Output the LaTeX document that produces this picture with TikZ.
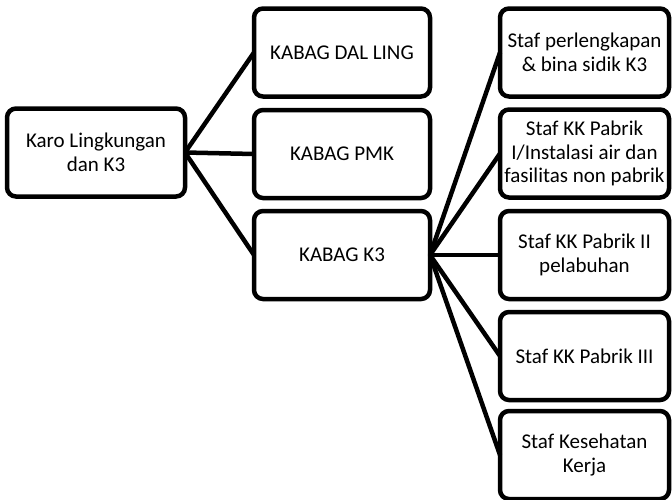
\documentclass[tikz,border=0pt]{standalone}
\usepackage{fontspec}
\setmainfont{Carlito}
\begin{document}
\begin{tikzpicture}[x=1pt,y=-1pt,
  box/.style={draw,line width=4.5pt,rounded corners=9pt,minimum height=88pt,
    inner sep=0pt,outer sep=0pt,align=center,font=\fontsize{21}{23.5}\selectfont},
  headbox/.style={box,minimum width=178pt},
  midbox/.style={box,minimum width=176pt},
  staffbox/.style={box,minimum width=169pt},
  link/.style={line width=4.5pt}]
\useasboundingbox (0,0) rectangle (672,499);

% head of the unit
\node[headbox] (karo) at (96,152.5) {Karo Lingkungan\\dan K3};

% sections
\node[midbox] (dal) at (342,52.5) {KABAG DAL LING};
\node[midbox] (pmk) at (342,154) {KABAG PMK};
\node[midbox] (k3)  at (342,255) {KABAG K3};

% staff under KABAG K3
\node[staffbox] (s1) at (584.5,52.5) {Staf perlengkapan\\\& bina sidik K3};
\node[staffbox] (s2) at (584.5,153.5) {Staf KK Pabrik\\I/Instalasi air dan\\fasilitas non pabrik};
\node[staffbox] (s3) at (584.5,255) {Staf KK Pabrik II\\pelabuhan};
\node[staffbox] (s4) at (584.5,356) {Staf KK Pabrik III};
\node[staffbox] (s5) at (584.5,455) {Staf Kesehatan\\Kerja};

% connectors
\foreach \t in {dal,pmk,k3}
  \draw[link] (karo.east) -- (\t.west);
\foreach \t in {s1,s2,s3,s4,s5}
  \draw[link] (k3.east) -- (\t.west);
\end{tikzpicture}
\end{document}
